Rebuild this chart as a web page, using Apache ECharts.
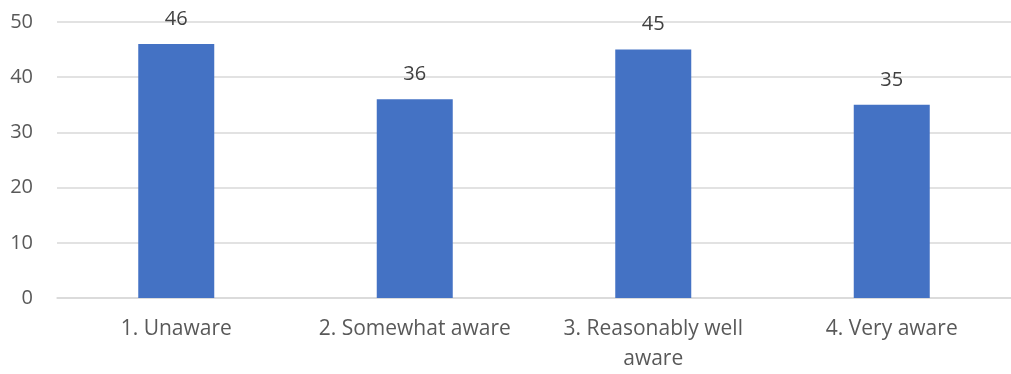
<!DOCTYPE html>
<html>
<head>
<meta charset="utf-8">
<script src="https://cdn.jsdelivr.net/npm/echarts@6/dist/echarts.min.js"></script>
<style>
html,body{margin:0;padding:0;background:#fff;}
#chart{width:1011px;height:374px;}
</style>
</head>
<body>
<div id="chart"></div>
<script>
const categories = ['1. Unaware', '2. Somewhat aware', '3. Reasonably well\naware', '4. Very aware'];
const values = [46, 36, 45, 35];
const yTicks = [0, 10, 20, 30, 40, 50];

const chart = echarts.init(document.getElementById('chart'));
const font = '"Open Sans", sans-serif';
chart.setOption({
  animation: false,
  grid: { left: 57, top: 22, width: 966, height: 280, containLabel: false },
  xAxis: {
    type: 'category',
    data: categories,
    axisLine: { show: true, lineStyle: { color: '#d9d9d9', width: 1.5 } },
    axisTick: { show: false },
    axisLabel: { color: '#595959', fontSize: 21, fontFamily: font, margin: 16, lineHeight: 30, interval: 0 }
  },
  yAxis: {
    type: 'value',
    min: yTicks[0],
    max: yTicks[yTicks.length - 1],
    interval: 10,
    axisLine: { show: false },
    axisTick: { show: false },
    splitLine: { lineStyle: { color: '#d9d9d9', width: 1.5 } },
    axisLabel: { color: '#595959', fontSize: 20, fontFamily: font, margin: 24 }
  },
  series: [{
    type: 'bar',
    data: values,
    barWidth: 76,
    itemStyle: { color: '#4472C4' },
    label: { show: true, position: 'top', distance: 15, color: '#404040', fontSize: 20, fontFamily: font }
  }]
});
</script>
</body>
</html>
